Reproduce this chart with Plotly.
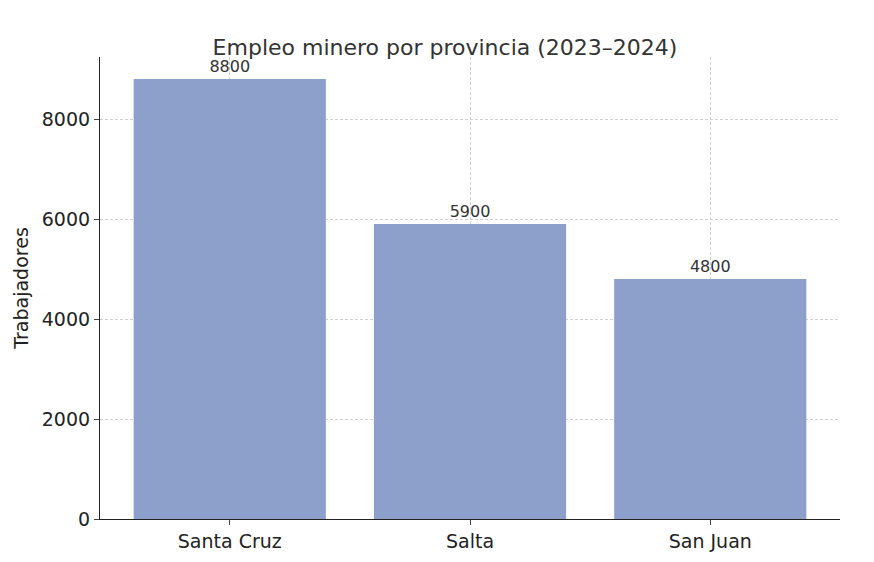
import plotly.graph_objects as go

provincias = ["Santa Cruz", "Salta", "San Juan"]
trabajadores = [8800, 5900, 4800]
yticks = [0, 2000, 4000, 6000, 8000]

fig = go.Figure(go.Bar(
    x=provincias, y=trabajadores, width=0.8,
    marker=dict(color="#8da0cb", line=dict(width=0)),
    text=[str(v) for v in trabajadores], textposition="outside",
    textfont=dict(size=16, color="#333"), cliponaxis=False))

fig.update_layout(
    width=874, height=562, plot_bgcolor="white", paper_bgcolor="white",
    margin=dict(l=87, r=42, t=49, b=51),
    font=dict(family="DejaVu Sans", color="#222"),
    title=dict(text="Empleo minero por provincia (2023–2024)", x=0.5, xanchor="center",
               y=0.93, yanchor="middle", font=dict(size=22, color="#333")),
    showlegend=False)
fig.update_xaxes(range=[-0.54, 2.54], showline=True, linecolor="#222", linewidth=1.2,
                 ticks="outside", ticklen=5, tickfont=dict(size=19),
                 showgrid=True, gridcolor="#d0d0d0", griddash="3px,2px", gridwidth=0.8)
fig.update_yaxes(range=[0, 9240], tickvals=yticks, showline=True, linecolor="#222", linewidth=1.2,
                 ticks="outside", ticklen=5, tickfont=dict(size=19),
                 title=dict(text="Trabajadores", font=dict(size=19), standoff=8),
                 showgrid=True, gridcolor="#d0d0d0", griddash="3px,2px", gridwidth=0.8, zeroline=False)
fig.write_html("out.html")
